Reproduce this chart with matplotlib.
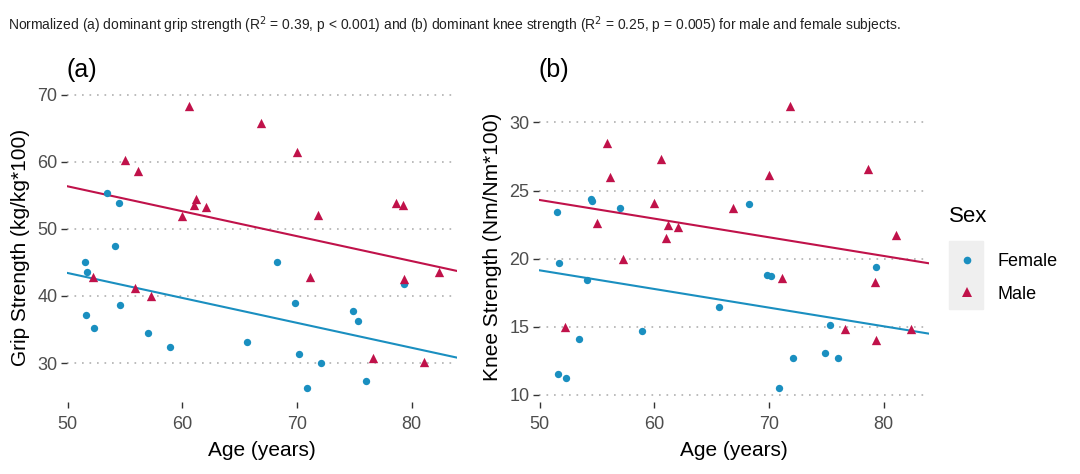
import numpy as np
import matplotlib
matplotlib.use('Agg')
import matplotlib.pyplot as plt
from matplotlib.lines import Line2D
from matplotlib.patches import Rectangle

plt.rcParams['font.family'] = ['Liberation Sans', 'DejaVu Sans']

# female subjects
age_f = [51.5, 51.6, 51.7, 52.3, 53.4, 54.1, 54.5, 54.6, 57.0, 58.9,
         65.6, 68.3, 69.8, 70.2, 70.9, 72.1, 74.9, 75.3, 76.0, 79.3]
grip_f = [45.1, 37.1, 43.5, 35.2, 55.4, 47.5, 53.9, 38.7, 34.5, 32.4,
          33.1, 45.0, 38.9, 31.4, 26.3, 30.0, 37.8, 36.3, 27.3, 41.8]
knee_f = [23.4, 11.5, 19.7, 11.25, 14.1, 18.4, 24.4, 24.2, 23.7, 14.7,
          16.45, 24.0, 18.8, 18.7, 10.5, 12.7, 13.1, 15.15, 12.7, 19.4]

# male subjects
age_m = [52.2, 55.0, 55.9, 56.1, 57.3, 60.0, 60.6, 61.05, 61.2, 62.1,
         66.9, 70.0, 71.1, 71.8, 76.6, 78.6, 79.2, 79.3, 81.1, 82.4]
grip_m = [42.9, 60.3, 41.25, 58.6, 40.0, 51.9, 68.3, 53.6, 54.4, 53.3,
          65.8, 61.5, 42.8, 52.0, 30.8, 53.9, 53.5, 42.6, 30.2, 43.5]
knee_m = [15.0, 22.6, 28.5, 26.0, 20.0, 24.1, 27.3, 21.5, 22.5, 22.3,
          23.7, 26.15, 18.6, 31.2, 14.8, 26.6, 18.3, 14.0, 21.75, 14.8]

caption = ('Normalized (a) dominant grip strength (R$^2$ = 0.39, p < 0.001) and '
           '(b) dominant knee strength (R$^2$ = 0.25, p = 0.005) for male and female subjects.')

col_f = '#1a8fc0'
col_m = '#c0124a'


def expand(vals):
    lo, hi = min(vals), max(vals)
    d = (hi - lo) * 0.05
    return lo - d, hi + d


def draw(ax, yf, ym, ylabel, title, yticks):
    af, am = np.array(age_f), np.array(age_m)
    yf, ym = np.array(yf), np.array(ym)
    # common slope model: y ~ age + sex
    X = np.column_stack([np.ones(len(af) + len(am)), np.r_[af, am],
                         np.r_[np.zeros(len(af)), np.ones(len(am))]])
    b = np.linalg.lstsq(X, np.r_[yf, ym], rcond=None)[0]
    xl = expand(np.r_[af, am])
    yl = expand(np.r_[yf, ym])
    xx = np.linspace(xl[0], xl[1], 10)
    ax.plot(xx, b[0] + b[1] * xx, color=col_f, lw=1.5, zorder=2)
    ax.plot(xx, b[0] + b[2] + b[1] * xx, color=col_m, lw=1.5, zorder=2)
    ax.scatter(af, yf, s=28, marker='o', color=col_f, linewidths=0, zorder=3)
    ax.scatter(am, ym, s=45, marker='^', color=col_m, linewidths=0, zorder=3)
    ax.set_xlim(xl)
    ax.set_ylim(yl)
    ax.set_xticks([50, 60, 70, 80])
    ax.set_yticks(yticks)
    for s in ax.spines.values():
        s.set_visible(False)
    ax.grid(axis='y', color='#b0b0b0', ls=(0, (1, 3.5)), lw=1.2)
    ax.set_axisbelow(True)
    ax.tick_params(length=4, width=1, color='#333333', labelcolor='#4d4d4d',
                   labelsize=13)
    ax.tick_params(axis='x', pad=6)
    ax.tick_params(axis='y', pad=3)
    ax.set_xlabel('Age (years)', fontsize=15, labelpad=6)
    ax.set_ylabel(ylabel, fontsize=15, labelpad=5)
    ax.set_title(title, loc='left', fontsize=18, pad=11)


fig = plt.figure(figsize=(10.8, 4.74), dpi=100)
W, H = 1080, 474
ax1 = fig.add_axes([67 / W, 72 / H, 390 / W, 310 / H])
ax2 = fig.add_axes([539 / W, 72 / H, 390 / W, 310 / H])

draw(ax1, grip_f, grip_m, 'Grip Strength (kg/kg*100)', '(a)', [30, 40, 50, 60, 70])
draw(ax2, knee_f, knee_m, 'Knee Strength (Nm/Nm*100)', '(b)', [10, 15, 20, 25, 30])

fig.text(8 / W, 1 - 25 / H, caption, fontsize=10, color='#222222', va='center')

# legend
fig.text(949 / W, 1 - 216 / H, 'Sex', fontsize=16, va='center', ha='left')
fig.patches.append(Rectangle((949 / W, 165 / H), 34 / W, 68 / H,
                             transform=fig.transFigure, color='#efefef', zorder=0))
handles = [Line2D([], [], marker='o', ls='', color=col_f, markersize=5.5, markeredgewidth=0),
           Line2D([], [], marker='^', ls='', color=col_m, markersize=7, markeredgewidth=0)]
leg = fig.legend(handles, ['Female', 'Male'], loc='upper left',
                 bbox_to_anchor=(934 / W, 1 - 237 / H), frameon=False,
                 fontsize=13, handlelength=1.9, handletextpad=0.7, labelspacing=0.85)

fig.savefig('out.png', dpi=100)
